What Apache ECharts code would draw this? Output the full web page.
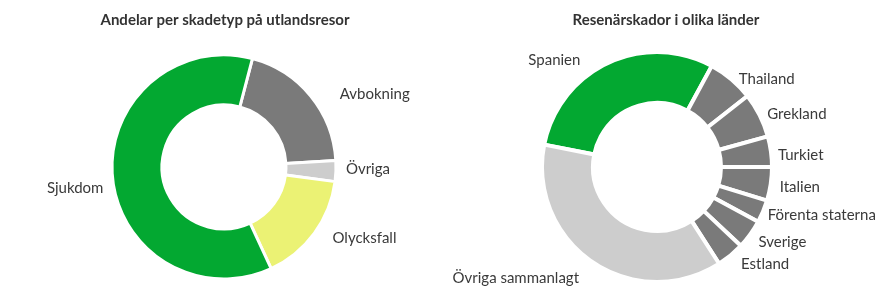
<!DOCTYPE html>
<html>
<head>
<meta charset="utf-8">
<script src="https://cdn.jsdelivr.net/npm/echarts@6/dist/echarts.min.js"></script>
<style>
html,body{margin:0;padding:0;background:#fff;}
#chart{width:896px;height:299px;}
</style>
</head>
<body>
<div id="chart"></div>
<script>
// ---- Data ----
const leftTitle = 'Andelar per skadetyp på utlandsresor';
const leftCategories = ['Avbokning', 'Övriga', 'Olycksfall', 'Sjukdom'];
const leftValues = [20, 3, 16, 61];

const rightTitle = 'Resenärskador i olika länder';
const rightCategories = ['Spanien', 'Thailand', 'Grekland', 'Turkiet', 'Italien', 'Förenta staterna', 'Sverige', 'Estland', 'Övriga sammanlagt'];
const rightValues = [29.8, 6.5, 6.3, 4.3, 4.7, 3.2, 4.1, 3.9, 37.2];

// ---- Styles ----
const GREEN = '#03a831', GRAY = '#7a7a7a', LIGHT = '#cdcdcd', YELLOW = '#ebf274';
const leftColors = [GRAY, LIGHT, YELLOW, GREEN];
const rightColors = [GREEN, GRAY, GRAY, GRAY, GRAY, GRAY, GRAY, GRAY, LIGHT];
const leftLabelNudge = [[15, 1], [-5, -2], [4, 2], [6, 11]];
const rightLabelNudge = [[-15, 1], [-6, 3], [-7, 1], [-8, 4], [-6, 3], [-10, 2], [-6, 5], [-3, 6], [0, 13]];

const FONT = 'Lato';
const TEXT = '#3a3a3a';

function build(cats, vals, colors, nudges) {
  return cats.map((c, i) => ({
    name: c,
    value: vals[i],
    itemStyle: { color: colors[i] },
    label: { offset: nudges[i] }
  }));
}

const chart = echarts.init(document.getElementById('chart'), null, { renderer: 'canvas' });
const labelBase = {
  show: true,
  position: 'outside',
  formatter: '{b}',
  color: TEXT,
  fontFamily: FONT,
  fontSize: 15,
  distanceToLabelLine: 5
};
const titleStyle = { fontFamily: FONT, fontSize: 15, fontWeight: 'bold', color: '#333' };
chart.setOption({
  animation: false,
  title: [
    { text: leftTitle, left: 220, top: 8, textAlign: 'center', textStyle: titleStyle },
    { text: rightTitle, left: 661, top: 8, textAlign: 'center', textStyle: titleStyle }
  ],
  series: [
    {
      type: 'pie',
      center: [224, 167],
      radius: [62, 112],
      startAngle: 90 - 14.7,
      clockwise: true,
      avoidLabelOverlap: false,
      itemStyle: { borderColor: '#fff', borderWidth: 3 },
      label: labelBase,
      labelLine: { show: false, length: 4, length2: 6 },
      emphasis: { disabled: true },
      data: build(leftCategories, leftValues, leftColors, leftLabelNudge)
    },
    {
      type: 'pie',
      center: [657, 167],
      radius: [64, 115],
      startAngle: 90 - 281.2,
      clockwise: true,
      avoidLabelOverlap: false,
      itemStyle: { borderColor: '#fff', borderWidth: 4 },
      label: labelBase,
      labelLine: { show: false, length: 4, length2: 6 },
      emphasis: { disabled: true },
      data: build(rightCategories, rightValues, rightColors, rightLabelNudge)
    }
  ]
});
</script>
</body>
</html>
